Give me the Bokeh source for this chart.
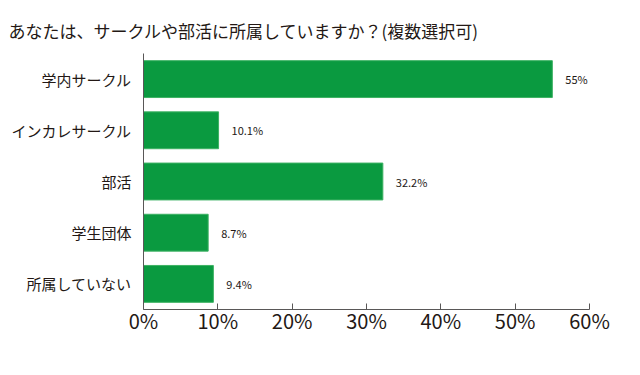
from bokeh.plotting import figure
from bokeh.models import ColumnDataSource, PrintfTickFormatter, FixedTicker, Title
from bokeh.embed import file_html
from bokeh.resources import INLINE
from bokeh.core.properties import value

title = "あなたは、サークルや部活に所属していますか？(複数選択可)"
categories = ["学内サークル", "インカレサークル", "部活", "学生団体", "所属していない"]
values = [55, 10.1, 32.2, 8.7, 9.4]
labels = ["55%", "10.1%", "32.2%", "8.7%", "9.4%"]
ticks = [0, 10, 20, 30, 40, 50, 60]

FONT = "Noto Sans CJK JP"
TXT = "#231815"

src = ColumnDataSource(dict(cat=categories, val=values, lab=labels))

p = figure(width=632, height=367, y_range=list(reversed(categories)), x_range=(0, 60),
           output_backend="svg", toolbar_location=None,
           min_border_left=143, min_border_right=43, min_border_top=53, min_border_bottom=58)
p.title = Title(text=title, text_font=FONT, text_font_size="17px", text_font_style="normal",
                text_color=TXT, align="left", offset=-135, standoff=18, vertical_align="top")

p.hbar(y="cat", right="val", left=0, height=0.72, source=src, color="#0a9a40", line_color="#3db263", line_width=1)
p.text(x="val", y="cat", text="lab", source=src, x_offset=13, text_font=value(FONT),
       text_font_size="11px", text_baseline="middle", text_color=TXT)

p.outline_line_color = None
p.grid.grid_line_color = None
p.background_fill_color = "white"

xa = p.xaxis[0]
xa.ticker = FixedTicker(ticks=ticks)
xa.formatter = PrintfTickFormatter(format="%d%%")
xa.major_label_text_font = FONT
xa.major_label_text_font_size = "20px"
xa.major_label_text_color = TXT
xa.major_label_standoff = -4
xa.major_tick_in = 6
xa.major_tick_out = 0
xa.minor_tick_line_color = None
xa.axis_line_color = "#595757"
xa.major_tick_line_color = "#595757"

ya = p.yaxis[0]
ya.major_label_text_font = FONT
ya.major_label_text_font_size = "15px"
ya.major_label_text_color = TXT
ya.major_tick_line_color = None
ya.minor_tick_line_color = None
ya.axis_line_color = "#595757"
ya.major_label_standoff = 6

open("out.html", "w").write(file_html(p, INLINE))
